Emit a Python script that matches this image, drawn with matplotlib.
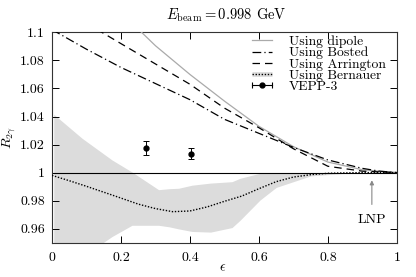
import matplotlib
matplotlib.use("Agg")
import matplotlib.pyplot as plt
from matplotlib.lines import Line2D
from matplotlib.legend_handler import HandlerLine2D, HandlerTuple
import numpy as np

plt.rcParams['font.family'] = ['cmr10', 'DejaVu Serif']
plt.rcParams['mathtext.fontset'] = 'cm'
plt.rcParams['axes.formatter.use_mathtext'] = True

# ---- data ----
eps_bosted = [0.0, 0.1, 0.2, 0.3, 0.4, 0.5, 0.6, 0.7, 0.8, 0.9, 0.95, 1.0]
R_bosted = [1.102, 1.088, 1.075, 1.0635, 1.052, 1.038, 1.028, 1.018, 1.009, 1.003, 1.001, 1.0]

eps_dipole = [0.2, 0.26, 0.3, 0.4, 0.5, 0.6, 0.7, 0.8, 0.9, 1.0]
R_dipole = [1.114, 1.1, 1.0905, 1.07, 1.051, 1.033, 1.0185, 1.0075, 1.002, 1.0]

eps_arr = [0.1, 0.145, 0.2, 0.3, 0.4, 0.5, 0.6, 0.7, 0.8, 0.9, 1.0]
R_arr = [1.107, 1.1, 1.092, 1.0775, 1.063, 1.046, 1.032, 1.017, 1.0045, 1.001, 1.0]

eps_bern = [0.0, 0.05, 0.1, 0.15, 0.2, 0.25, 0.3, 0.35, 0.4, 0.45, 0.5,
            0.55, 0.6, 0.65, 0.7, 0.75, 0.8, 0.9, 1.0]
R_bern = [0.998, 0.9942, 0.9902, 0.986, 0.9818, 0.9775, 0.9743, 0.9721, 0.9726, 0.9755, 0.9795,
          0.9832, 0.9885, 0.9935, 0.9968, 0.9985, 0.9995, 1.0, 1.0]

eps_band_up = [0.005, 0.087, 0.174, 0.232, 0.309, 0.34, 0.367, 0.406, 0.46, 0.522,
               0.545, 0.603, 0.65, 0.75, 0.85, 0.95, 1.0]
R_band_up = [1.0416, 1.0245, 1.009, 1.0004, 0.9878, 0.9885, 0.9888, 0.991, 0.9925, 0.9935,
             0.9959, 0.9995, 1.0, 1.0, 1.0, 1.0, 1.0]
eps_band_lo = [0.005, 0.145, 0.222, 0.319, 0.386, 0.43, 0.487, 0.525, 0.574, 0.622,
               0.67, 0.72, 0.806, 0.9, 1.0]
R_band_lo = [0.926, 0.9495, 0.9624, 0.9624, 0.9588, 0.957, 0.958, 0.961, 0.973, 0.9852,
             0.9924, 0.9969, 0.999, 1.0, 1.0]

eps_vepp = [0.273, 0.404]
R_vepp = [1.0176, 1.0134]
err_vepp = [0.0051, 0.0040]

xticks = [0, 0.2, 0.4, 0.6, 0.8, 1]
xticklabels = ['0', '0.2', '0.4', '0.6', '0.8', '1']
yticks = [0.96, 0.98, 1.0, 1.02, 1.04, 1.06, 1.08, 1.1]
yticklabels = ['0.96', '0.98', '1', '1.02', '1.04', '1.06', '1.08', '1.1']

# ---- figure ----
fig = plt.figure(figsize=(4.16, 2.77), dpi=100)
ax = fig.add_axes([0.125, 0.124, 0.829, 0.759])

band_color = '#dcdcdc'
band_x = np.array(eps_band_up)
band_lo_on_up = np.interp(band_x, eps_band_lo, R_band_lo)
ax.fill_between(band_x, band_lo_on_up, R_band_up, color=band_color, lw=0, zorder=1)

ax.axhline(1.0, color='black', lw=0.8, zorder=2)

dash_bos = (7, 2.5, 1, 2.5)
dash_arr = (6, 4)
dash_bern = (1, 1.2)

ax.plot(eps_dipole, R_dipole, color='#aaaaaa', lw=0.9, zorder=3)
ax.plot(eps_bosted, R_bosted, color='black', lw=0.9, dashes=dash_bos, zorder=3)
ax.plot(eps_arr, R_arr, color='black', lw=0.9, dashes=dash_arr, zorder=3)
ax.plot(eps_bern, R_bern, color='black', lw=1.0, dashes=dash_bern, zorder=3)

ax.errorbar(eps_vepp, R_vepp, yerr=err_vepp, fmt='o', color='black', ms=3.5,
            capsize=2.5, elinewidth=0.7, capthick=0.7, zorder=4)

ax.annotate('LNP', xy=(0.9275, 0.9945), xytext=(0.9275, 0.966),
            ha='center', va='center', fontsize=10,
            arrowprops=dict(arrowstyle='-|>', color='#888888', lw=0.8,
                            mutation_scale=6, shrinkA=5, shrinkB=0))

ax.set_xlim(0, 1)
ax.set_ylim(0.95, 1.1)
ax.set_xticks(xticks)
ax.set_xticklabels(xticklabels)
ax.set_yticks(yticks)
ax.set_yticklabels(yticklabels)
ax.tick_params(direction='in', length=5, width=0.7, top=True, right=True,
               labelsize=10, pad=5, colors='black')
ax.tick_params(axis='x', pad=7)
for sp in ax.spines.values():
    sp.set_linewidth(0.8)
    sp.set_color('#333333')

fig.text(0.545, 0.945, r'$E_\mathrm{beam} = 0.998$ GeV', ha='center', va='center', fontsize=10.5)
fig.text(0.536, 0.032, r'$\epsilon$', ha='center', va='center', fontsize=10)
fig.text(0.022, 0.503, r'$R_{2\gamma}$', ha='center', va='center', fontsize=10, rotation=90)

# legend
h_dip = Line2D([], [], color='#aaaaaa', lw=0.9)
h_bos = Line2D([], [], color='black', lw=0.9, dashes=dash_bos)
h_arr = Line2D([], [], color='black', lw=0.9, dashes=dash_arr)
h_bern_bg = Line2D([], [], color=band_color, lw=3.5, solid_capstyle='butt')
h_bern = Line2D([], [], color='black', lw=1.0, dashes=dash_bern)
h_vl = Line2D([], [], color='black', lw=0.8, marker='o', ms=3.5)
h_vc = Line2D([], [], color='black', lw=0, marker='|', ms=5, mew=0.8)
leg = ax.legend([h_dip, h_bos, h_arr, (h_bern_bg, h_bern), (h_vl, h_vc)],
                ['Using dipole', 'Using Bosted', 'Using Arrington', 'Using Bernauer', 'VEPP-3'],
                handler_map={tuple: HandlerTuple(ndivide=1, pad=0),
                             h_vc: HandlerLine2D(numpoints=2, marker_pad=0.0),
                             h_vl: HandlerLine2D(numpoints=1)},
                loc='upper right', bbox_to_anchor=(0.967, 0.985), frameon=False,
                fontsize=9.8, labelspacing=-0.1, handlelength=1.5, handletextpad=1.2,
                borderpad=0.0, borderaxespad=0.0)

fig.savefig('out.png', dpi=100)
